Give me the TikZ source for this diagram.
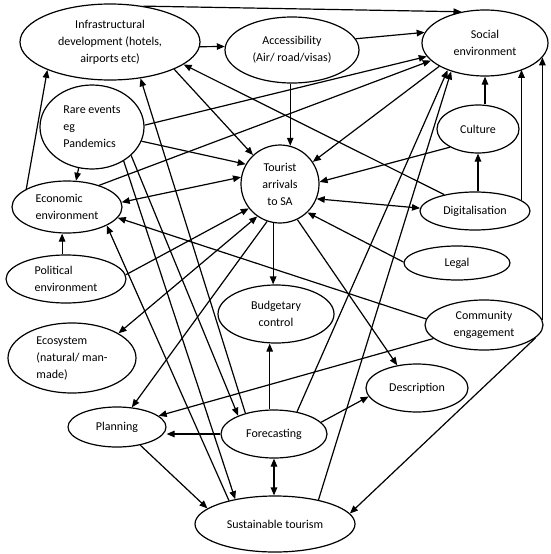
\documentclass[tikz,border=0pt]{standalone}
\usepackage{fontspec}
\setmainfont{Carlito}
\usetikzlibrary{shapes.geometric, arrows.meta}

\begin{document}
\begin{tikzpicture}[x=1pt, y=-1pt, line width=1.2pt, font=\fontsize{12}{17}\selectfont,
    bub/.style={ellipse, draw, inner sep=0pt, align=center},
    link/.style={-{Triangle[length=8pt, width=6.5pt]}},
    dlink/.style={{Triangle[length=8pt, width=6.5pt]}-{Triangle[length=8pt, width=6.5pt]}}]
    \useasboundingbox (0,0) rectangle (550,554);

    \node (infra) [bub, minimum width=180pt, minimum height=76pt] at (110,42) {Infrastructural\\development (hotels,\\airports etc)};
    \node (access) [bub, minimum width=134pt, minimum height=66pt] at (292,50) {Accessibility\\(Air/ road/visas)};
    \node (social) [bub, minimum width=126pt, minimum height=66pt] at (485,43) {Social\\environment};
    \node (rare) [bub, align=left, minimum width=104pt, minimum height=84pt] at (92,127) {Rare events\\eg\\Pandemics};
    \node (arr) [bub, minimum width=78pt, minimum height=78pt] at (280,184) {Tourist\\arrivals\\to SA};
    \node (culture) [bub, minimum width=82pt, minimum height=48pt] at (478,129) {Culture};
    \node (econ) [bub, align=left, minimum width=110pt, minimum height=52pt] at (67,207) {Economic\\environment};
    \node (digi) [bub, minimum width=110pt, minimum height=38pt] at (475,211) {Digitalisation};
    \node (legal) [bub, minimum width=106pt, minimum height=34pt] at (457,263) {Legal};
    \node (polit) [bub, align=left, minimum width=120pt, minimum height=48pt] at (66,279) {Political\\environment};
    \node (comm) [bub, minimum width=118pt, minimum height=50pt] at (484,325) {Community\\engagement};
    \node (budget) [bub, minimum width=116pt, minimum height=58pt] at (276,314) {Budgetary\\control};
    \node (eco) [bub, align=left, minimum width=128pt, minimum height=70pt] at (72,358) {Ecosystem\\(natural/ man-\\made)};
    \node (descr) [bub, minimum width=102pt, minimum height=48pt] at (417,388) {Description};
    \node (plan) [bub, minimum width=98pt, minimum height=40pt] at (117,427) {Planning};
    \node (fcast) [bub, minimum width=106pt, minimum height=48pt] at (274,434) {Forecasting};
    \node (sust) [bub, minimum width=160pt, minimum height=56pt] at (275,524) {Sustainable tourism};

    \draw[link] (infra.-3) -- (access.177);
    \draw[link] (infra.47) -- (social.127);
    \draw[link] (access.10) -- (social.170);
    \draw[link] (arr.75 |- access.south) -- (arr.75);
    \draw[link] (rare.2) -- (social.-167);
    \draw[link] (econ.34) -- (social.-162);
    \draw[link] (social.-153) -- (arr.34);
    \draw[link] (digi.152) -- (infra.-17);
    \draw[link] (infra.-23) -- (arr.133);
    \draw[link] (rare.-16) -- (arr.150);
    \draw[link] (rare.252) -- (econ.71);
    \draw[link] (rare.-36) -- (fcast.153);
    \draw[link] (rare.-47) -- (sust.148);
    \draw[link] (fcast.144) -- (infra.-50);
    \draw[link] (sust.153) -- (econ.-25);
    \draw[link] (econ.156) -- (infra.204);
    \draw[dlink] (econ.5) -- (arr.170);
    \draw[link] (polit.99) -- (polit.99 |- econ.south);
    \draw[link] (polit.4) -- (arr.218);
    \draw[dlink] (eco.28) -- (arr.235);
    \draw[link] (arr.260) -- (arr.260 |- budget.north);
    \draw[link] (arr.-64) -- (descr.131);
    \draw[link] (arr.251) -- (plan.53);
    \draw[link] (fcast.44) -- (social.216);
    \draw[link] (sust.29) -- (social.220);
    \draw[link] (culture.north -| social.south) -- (social.south);
    \draw[link] (digi.north -| culture.south) -- (culture.south);
    \draw[link] (digi.13) -- (digi.13 |- social.-35);
    \draw[link] (comm.5) -- (comm.5 |- social.-14);
    \draw[link] (comm.-14) -- (sust.8);
    \draw[link] (culture.213) -- (arr.3);
    \draw[dlink] (arr.-22) -- (digi.177);
    \draw[link] (legal.179) -- (arr.-46);
    \draw[link] (comm.174) -- (econ.-12);
    \draw[link] (comm.195) -- (plan.15);
    \draw[link] (fcast.west) -- (fcast.west -| plan.east);
    \draw[link] (fcast.14) -- (descr.190);
    \draw[dlink] (fcast.south) -- (fcast.south |- sust.north);
    \draw[link] (plan.-38) -- (sust.167);
    \draw[link] (fcast.100) -- (fcast.100 |- budget.south);
\end{tikzpicture}
\end{document}
